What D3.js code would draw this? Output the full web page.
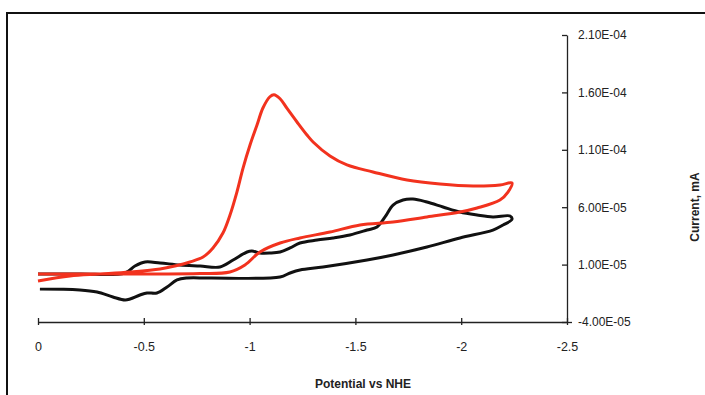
<!DOCTYPE html>
<html>
<head>
<meta charset="utf-8">
<script src="https://cdn.jsdelivr.net/npm/d3@7"></script>
<style>
  html, body { margin: 0; padding: 0; background: #fff; }
  svg { display: block; }
  text { font-family: "Liberation Sans", Arial, sans-serif; fill: #222; }
</style>
</head>
<body>
<svg id="chart" width="705" height="395"></svg>
<script>
// Potential (V vs NHE) and current (in units of 1e-5 mA) for the two voltammograms.
const xTicks = [0, -0.5, -1, -1.5, -2, -2.5];
const xTickLabels = ["0", "-0.5", "-1", "-1.5", "-2", "-2.5"];
const yTicks = [2.1e-4, 1.6e-4, 1.1e-4, 6e-5, 1e-5, -4e-5];
const yTickLabels = ["2.10E-04", "1.60E-04", "1.10E-04", "6.00E-05", "1.00E-05", "-4.00E-05"];

// Red scan: cathodic sweep then return sweep
const redPotential = [0, -0.151, -0.293, -0.435, -0.577, -0.647, -0.718, -0.780, -0.827, -0.874,
  -0.907, -0.940, -0.969, -1.002, -1.035, -1.063, -1.096, -1.115, -1.144, -1.177, -1.224,
  -1.271, -1.300, -1.380, -1.460, -1.583, -1.744, -1.900, -2.056, -2.183, -2.240,
  -2.221, -2.183, -2.075, -1.994, -1.838, -1.678, -1.522, -1.380, -1.238, -1.144, -1.049,
  -0.978, -0.907, -0.766, -0.529, -0.293, 0];
const redCurrent = [-0.43, 0.01, 0.18, 0.36, 0.62, 0.88, 1.23, 1.66, 2.45, 3.75,
  5.30, 7.32, 9.41, 11.42, 13.16, 14.64, 15.62, 15.80, 15.45, 14.60, 13.42,
  12.29, 11.68, 10.46, 9.68, 9.07, 8.37, 8.02, 7.85, 7.93, 8.11,
  7.32, 6.63, 5.93, 5.58, 5.15, 4.71, 4.45, 3.84, 3.32, 2.88, 2.10,
  0.97, 0.36, 0.22, 0.18, 0.18, 0.18];

// Black scan: cathodic sweep then return sweep
const blackPotential = [0, -0.198, -0.411, -0.458, -0.506, -0.577, -0.671, -0.766, -0.860, -0.922,
  -0.988, -1.011, -1.049, -1.096, -1.144, -1.191, -1.238, -1.319, -1.394, -1.474, -1.555,
  -1.602, -1.640, -1.678, -1.725, -1.772, -1.838, -1.914, -1.994, -2.075, -2.150, -2.231, -2.240,
  -2.198, -2.150, -1.994, -1.838, -1.678, -1.555, -1.347, -1.238, -1.191, -1.144, -0.813,
  -0.704, -0.657, -0.610, -0.562, -0.515, -0.482, -0.435, -0.411, -0.354, -0.279, -0.198, -0.009];
const blackCurrent = [0.18, 0.18, 0.27, 0.88, 1.23, 1.14, 0.97, 0.88, 0.79, 1.40,
  2.10, 2.18, 2.01, 2.01, 2.10, 2.45, 2.88, 3.14, 3.32, 3.58, 4.01,
  4.28, 5.15, 6.19, 6.63, 6.71, 6.45, 6.02, 5.58, 5.32, 5.15, 5.23, 4.95,
  4.45, 4.01, 3.32, 2.53, 1.84, 1.40, 0.79, 0.53, 0.27, -0.08, -0.17,
  -0.17, -0.34, -0.95, -1.47, -1.47, -1.65, -2.00, -2.08, -1.82, -1.39, -1.21, -1.13];

const svg = d3.select("#chart");

// Outer frame
svg.append("rect")
  .attr("x", 7).attr("y", 13).attr("width", 720).attr("height", 400)
  .attr("fill", "none").attr("stroke", "#111").attr("stroke-width", 2);

const x = d3.scaleLinear().domain([0, -2.5]).range([38, 567]);
const y = d3.scaleLinear().domain([-4e-5, 2.1e-4]).range([322, 35]);

// X axis along the bottom of the plot
const xAxis = d3.axisBottom(x)
  .tickValues(xTicks)
  .tickFormat((d, i) => xTickLabels[i])
  .tickSize(0).tickPadding(20);
const gx = svg.append("g").attr("transform", `translate(0,${y(-4e-5)})`).call(xAxis);
gx.select(".domain").attr("stroke", "#222").attr("stroke-width", 1.3);
gx.selectAll(".tick line").remove();
gx.selectAll(".tick").append("line")
  .attr("y1", -4).attr("y2", 3).attr("stroke", "#222").attr("stroke-width", 1.3);
gx.selectAll(".tick text").attr("font-size", 12.5).attr("fill", "#222");

// Y axis at the right end of the potential range, labels to its right
const yAxis = d3.axisRight(y)
  .tickValues(yTicks)
  .tickFormat((d, i) => yTickLabels[i])
  .tickSize(0).tickPadding(11);
const gy = svg.append("g").attr("transform", `translate(${x(-2.5)},0)`).call(yAxis);
gy.select(".domain").attr("stroke", "#222").attr("stroke-width", 1.3);
gy.selectAll(".tick line").remove();
gy.selectAll(".tick").append("line")
  .attr("x1", -5).attr("x2", d => d === -4e-5 ? 5 : 0)
  .attr("stroke", "#222").attr("stroke-width", 1.3);
gy.selectAll(".tick text").attr("font-size", 12).attr("fill", "#222");

// Axis titles
svg.append("text")
  .attr("x", 363).attr("y", 388)
  .attr("text-anchor", "middle")
  .attr("font-size", 12).attr("font-weight", "bold")
  .text("Potential vs NHE");
svg.append("text")
  .attr("transform", "translate(699,207) rotate(-90)")
  .attr("text-anchor", "middle")
  .attr("font-size", 12).attr("font-weight", "bold")
  .text("Current, mA");

// Voltammogram traces
const line = d3.line()
  .x(d => x(d[0]))
  .y(d => y(d[1] * 1e-5))
  .curve(d3.curveCatmullRom.alpha(0.5));

const blackData = d3.zip(blackPotential, blackCurrent);
const redData = d3.zip(redPotential, redCurrent);

svg.append("path").datum(blackData)
  .attr("d", line).attr("fill", "none")
  .attr("stroke", "#111").attr("stroke-width", 3)
  .attr("stroke-linejoin", "round");
svg.append("path").datum(redData)
  .attr("d", line).attr("fill", "none")
  .attr("stroke", "#f2321e").attr("stroke-width", 3)
  .attr("stroke-linejoin", "round");
</script>
</body>
</html>
